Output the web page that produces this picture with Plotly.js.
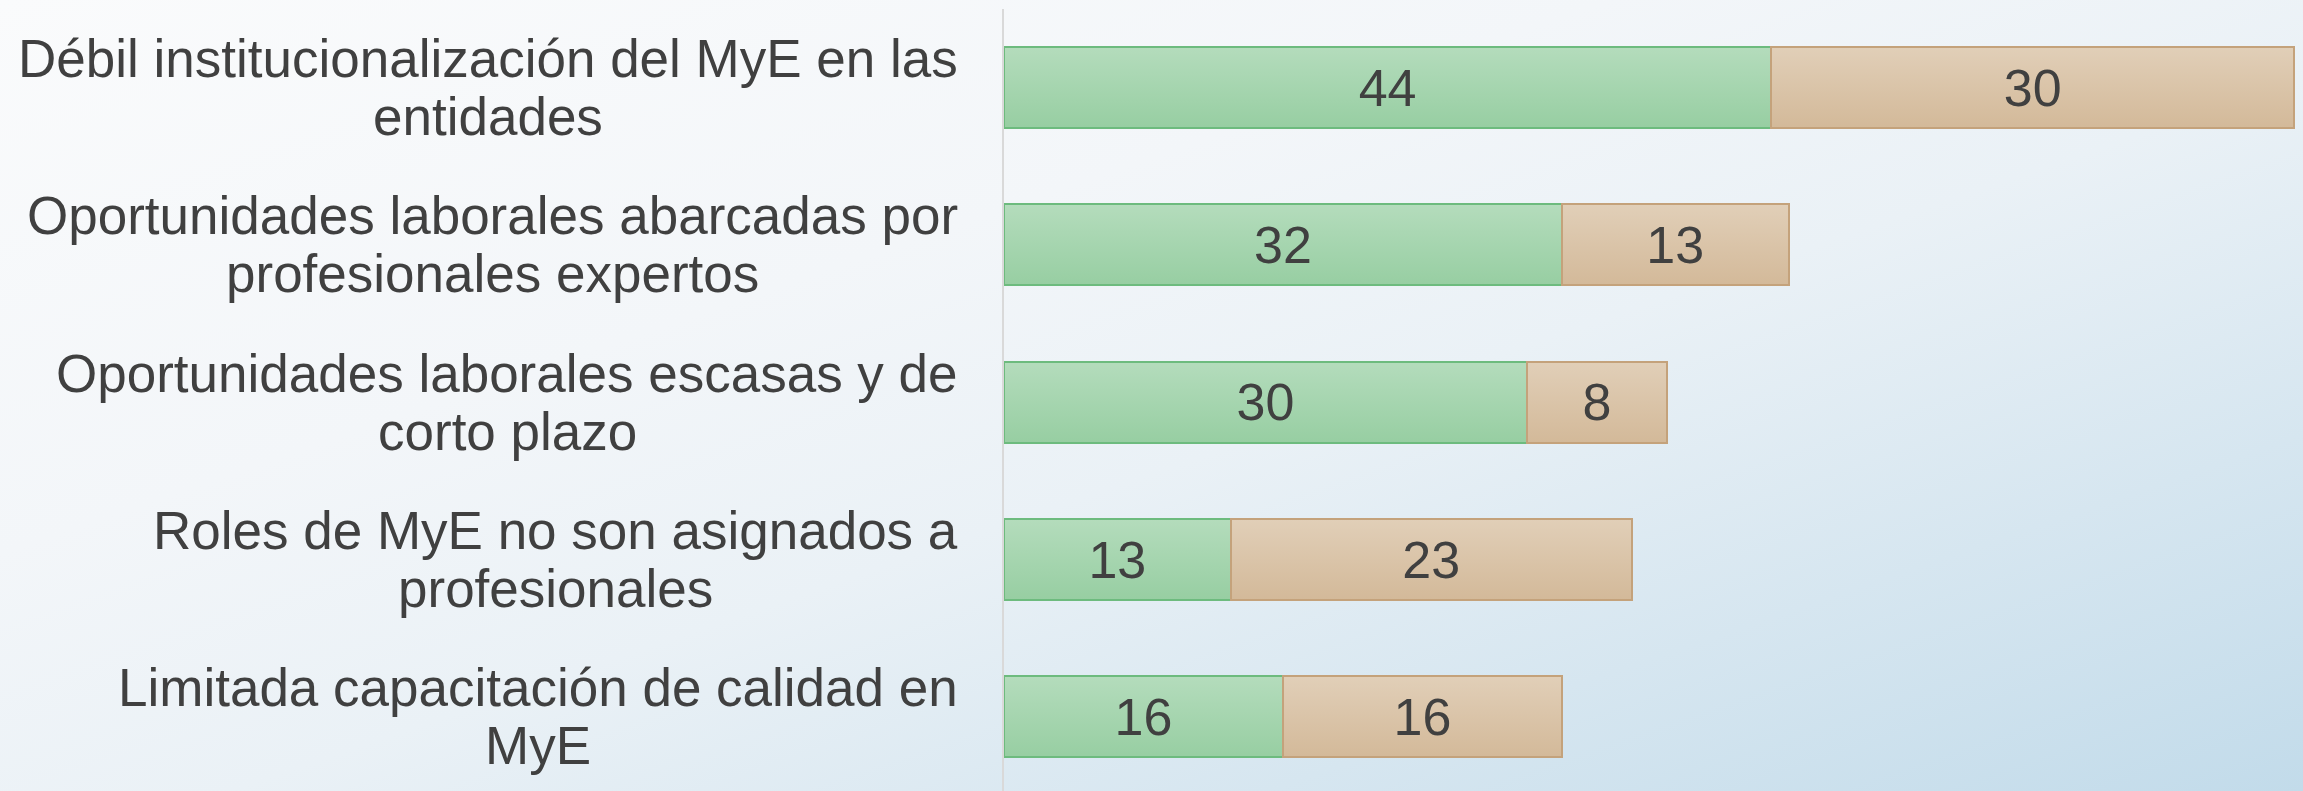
<!DOCTYPE html>
<html>
<head>
<meta charset="utf-8">
<script src="https://cdn.plot.ly/plotly-3.0.1.min.js"></script>
<style>
  html, body { margin:0; padding:0; width:2303px; height:791px; overflow:hidden; }
  body { background: linear-gradient(to bottom right, #fafbfc 0%, #f3f6f9 35%, #eaf1f6 55%, #c2dbea 100%); }
  #chart { width:2303px; height:791px; }
</style>
</head>
<body>
<div id="chart"></div>
<script>
const categories = [
  "Débil institucionalización del MyE en las<br>entidades",
  "Oportunidades laborales abarcadas por<br>profesionales expertos",
  "Oportunidades laborales escasas y de<br>corto plazo",
  "Roles de MyE no son asignados a<br>profesionales",
  "Limitada capacitación de calidad en<br>MyE"
];
const seriesGreen = [44, 32, 30, 13, 16];
const seriesTan = [30, 13, 8, 23, 16];

const ids = categories.map((c, i) => "c" + i);
const textColor = "#404040";
const fontFam = "Liberation Sans, Arial, sans-serif";
const labelSize = 53;

const traces = [
  {
    type: "bar", orientation: "h", y: ids, x: seriesGreen,
    text: seriesGreen.map(String), textposition: "inside", insidetextanchor: "middle",
    textangle: 0, constraintext: "none",
    textfont: {family: fontFam, size: 52, color: textColor},
    marker: {color: "#a6d5af", line: {color: "#6dbb7e", width: 2}},
    hoverinfo: "none", showlegend: false
  },
  {
    type: "bar", orientation: "h", y: ids, x: seriesTan,
    text: seriesTan.map(String), textposition: "inside", insidetextanchor: "middle",
    textangle: 0, constraintext: "none",
    textfont: {family: fontFam, size: 52, color: textColor},
    marker: {color: "#dac5a9", line: {color: "#c4a27b", width: 2}},
    hoverinfo: "none", showlegend: false
  }
];

// measure text to center each label's lines within a right-aligned block
const cnv = document.createElement("canvas").getContext("2d");
cnv.font = labelSize + "px 'Liberation Sans', Arial, sans-serif";
const annotations = [];
categories.forEach((c, i) => {
  const lines = c.split("<br>");
  const w = Math.max(...lines.map(l => cnv.measureText(l).width));
  const n = lines.length;
  const spacing = 58;
  lines.forEach((l, k) => {
    annotations.push({
      xref: "paper", yref: "y", x: 0, y: ids[i],
      xshift: -46 - w / 2, yshift: ((n - 1) / 2 - k) * spacing,
      xanchor: "center", yanchor: "middle", align: "center",
      text: l, showarrow: false,
      font: {family: fontFam, size: labelSize, color: textColor}
    });
  });
});

const layout = {
  width: 2303, height: 791,
  margin: {l: 1004, r: 0, t: 9, b: 0, pad: 0},
  paper_bgcolor: "rgba(0,0,0,0)", plot_bgcolor: "rgba(0,0,0,0)",
  barmode: "stack", bargap: 0.485,
  xaxis: {range: [0, 74.5], visible: false, showgrid: false, zeroline: false},
  yaxis: {type: "category", range: [4.471, -0.5], showticklabels: false, showgrid: false,
          zeroline: false, showline: true, linecolor: "#d9d9d9", linewidth: 2, ticks: ""},
  annotations: annotations
};

Plotly.newPlot("chart", traces, layout, {staticPlot: true, displayModeBar: false}).then(gd => {
  // vertical gradient fills for the bars, as in the reference
  const svg = gd.querySelector(".main-svg");
  const NS = "http://www.w3.org/2000/svg";
  let defs = svg.querySelector("defs");
  if (!defs) { defs = document.createElementNS(NS, "defs"); svg.insertBefore(defs, svg.firstChild); }
  const grads = [["gGreen", "#b4dcbc", "#97cea2"], ["gTan", "#e1cfb8", "#d3b999"]];
  grads.forEach(([id, c1, c2]) => {
    const g = document.createElementNS(NS, "linearGradient");
    g.setAttribute("id", id); g.setAttribute("x1", "0"); g.setAttribute("y1", "0");
    g.setAttribute("x2", "0"); g.setAttribute("y2", "1");
    [[0, c1], [1, c2]].forEach(([o, c]) => {
      const s = document.createElementNS(NS, "stop");
      s.setAttribute("offset", o); s.setAttribute("stop-color", c);
      g.appendChild(s);
    });
    defs.appendChild(g);
  });
  const traceGs = gd.querySelectorAll(".barlayer .trace");
  traceGs.forEach((tg, ti) => {
    tg.querySelectorAll(".point path").forEach(p => { p.style.fill = "url(#" + grads[ti][0] + ")"; });
  });
});
</script>
</body>
</html>
